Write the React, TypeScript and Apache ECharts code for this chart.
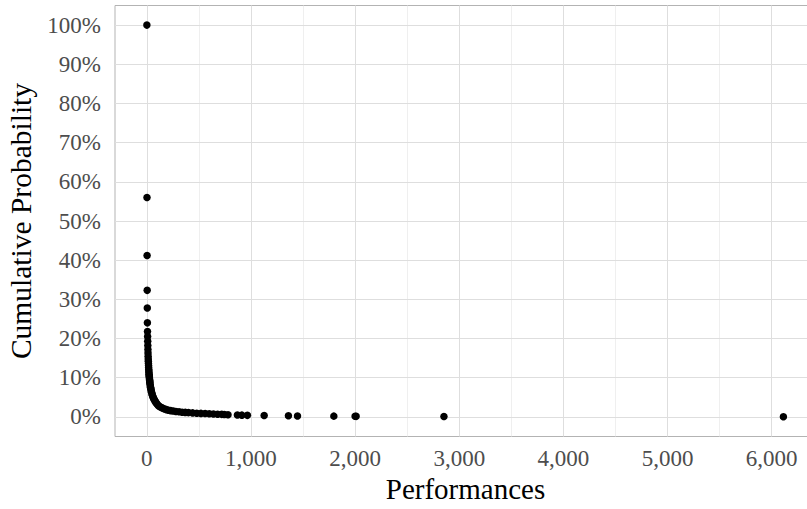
import React, { useEffect, useRef } from "react";
import * as echarts from "echarts";

// Number of performances (x) and cumulative probability P(X >= x) (y)
const performances = [
  1, 2, 3, 4, 5, 6, 7, 8, 9, 10, 11, 12, 13, 14, 15, 16, 17, 18, 19, 20,
  21, 22, 23, 24, 25, 26, 27, 28, 29, 30, 32, 34, 36, 38, 40, 43, 46, 50,
  54, 58, 63, 68, 74, 80, 87, 95, 104, 115, 127, 140, 155, 170, 190, 210,
  230, 255, 280, 310, 340, 370, 400, 440, 480, 520, 560, 600, 640, 680,
  720, 745, 780, 870, 913, 966, 1127, 1360, 1447, 1796, 2000, 2010, 2853, 6112,
];
const cumulativeProbability = [
  1.0, 0.56, 0.412, 0.323, 0.278, 0.24, 0.218, 0.205, 0.193, 0.182, 0.172,
  0.163, 0.155, 0.148, 0.142, 0.136, 0.131, 0.126, 0.121, 0.117, 0.113, 0.109,
  0.106, 0.103, 0.1, 0.097, 0.094, 0.092, 0.089, 0.087, 0.083, 0.079, 0.076,
  0.073, 0.07, 0.066, 0.063, 0.059, 0.055, 0.052, 0.049, 0.046, 0.043, 0.04,
  0.037, 0.034, 0.031, 0.028, 0.026, 0.024, 0.022, 0.02, 0.0185, 0.017, 0.016,
  0.015, 0.014, 0.013, 0.012, 0.0115, 0.011, 0.0102, 0.0095, 0.009, 0.0085,
  0.008, 0.0075, 0.007, 0.0065, 0.006, 0.0055, 0.005, 0.0045, 0.004, 0.0035,
  0.003, 0.0025, 0.002, 0.0016, 0.0014, 0.001, 0.0005,
];

const xMajorTicks = [0, 1000, 2000, 3000, 4000, 5000, 6000];
const xMinorTicks = [500, 1500, 2500, 3500, 4500, 5500];
const yMajorTicks = [0, 0.1, 0.2, 0.3, 0.4, 0.5, 0.6, 0.7, 0.8, 0.9, 1.0];

const xTitle = "Performances";
const yTitle = "Cumulative Probability";

const FONT = "'Liberation Serif', 'Times New Roman', serif";

export default function App() {
  const ref = useRef<HTMLDivElement>(null);

  useEffect(() => {
    if (!ref.current) return;
    const chart = echarts.init(ref.current, undefined, { renderer: "svg" });
    const points = performances.map((x, i) => [x, cumulativeProbability[i]]);

    const gridLines = [
      ...xMinorTicks.map((v) => ({
        xAxis: v,
        lineStyle: { color: "#ebebeb", width: 0.8, type: "solid" },
      })),
      ...xMajorTicks.map((v) => ({
        xAxis: v,
        lineStyle: { color: "#dedede", width: 1, type: "solid" },
      })),
      ...yMajorTicks.map((v) => ({
        yAxis: v,
        lineStyle: { color: "#dedede", width: 1, type: "solid" },
      })),
    ];

    chart.setOption({
      animation: false,
      backgroundColor: "#ffffff",
      grid: {
        left: 115,
        right: -9,
        top: 5.5,
        bottom: 72.5,
        show: true,
        borderColor: "#b3b3b3",
        borderWidth: 1,
        backgroundColor: "transparent",
        containLabel: false,
        outerBoundsMode: "none",
      },
      xAxis: {
        type: "value",
        min: -305,
        max: 6425,
        name: xTitle,
        nameLocation: "middle",
        nameGap: 38,
        nameTextStyle: { fontFamily: FONT, fontSize: 29, color: "#000000" },
        axisLine: { show: false },
        splitLine: { show: false },
        axisTick: {
          show: true,
          customValues: xMajorTicks,
          length: 5,
          lineStyle: { color: "#b3b3b3", width: 1 },
        },
        axisLabel: {
          customValues: xMajorTicks,
          fontFamily: FONT,
          fontSize: 23,
          color: "#4d4d4d",
          margin: 10,
          formatter: (v: number) => v.toLocaleString("en-US"),
        },
      },
      yAxis: {
        type: "value",
        min: -0.05,
        max: 1.05,
        name: yTitle,
        nameLocation: "middle",
        nameGap: 70,
        nameTextStyle: { fontFamily: FONT, fontSize: 29.5, color: "#000000" },
        axisLine: { show: false },
        splitLine: { show: false },
        axisTick: {
          show: true,
          customValues: yMajorTicks,
          length: 5,
          lineStyle: { color: "#b3b3b3", width: 1 },
        },
        axisLabel: {
          customValues: yMajorTicks,
          fontFamily: FONT,
          fontSize: 23,
          color: "#4d4d4d",
          margin: 14,
          formatter: (v: number) => Math.round(v * 100) + "%",
        },
      },
      series: [
        {
          type: "line",
          data: [],
          z: 1,
          silent: true,
          markLine: {
            silent: true,
            symbol: ["none", "none"],
            label: { show: false },
            emphasis: { disabled: true },
            animation: false,
            data: gridLines,
          },
        },
        {
          type: "scatter",
          data: points,
          z: 5,
          symbol: "circle",
          symbolSize: 7.5,
          itemStyle: { color: "#000000", opacity: 1 },
          emphasis: { disabled: true },
        },
      ],
    });
    return () => chart.dispose();
  }, []);

  return (
    <div
      ref={ref}
      style={{ position: "fixed", left: 0, top: 0, width: 807, height: 509 }}
    />
  );
}
